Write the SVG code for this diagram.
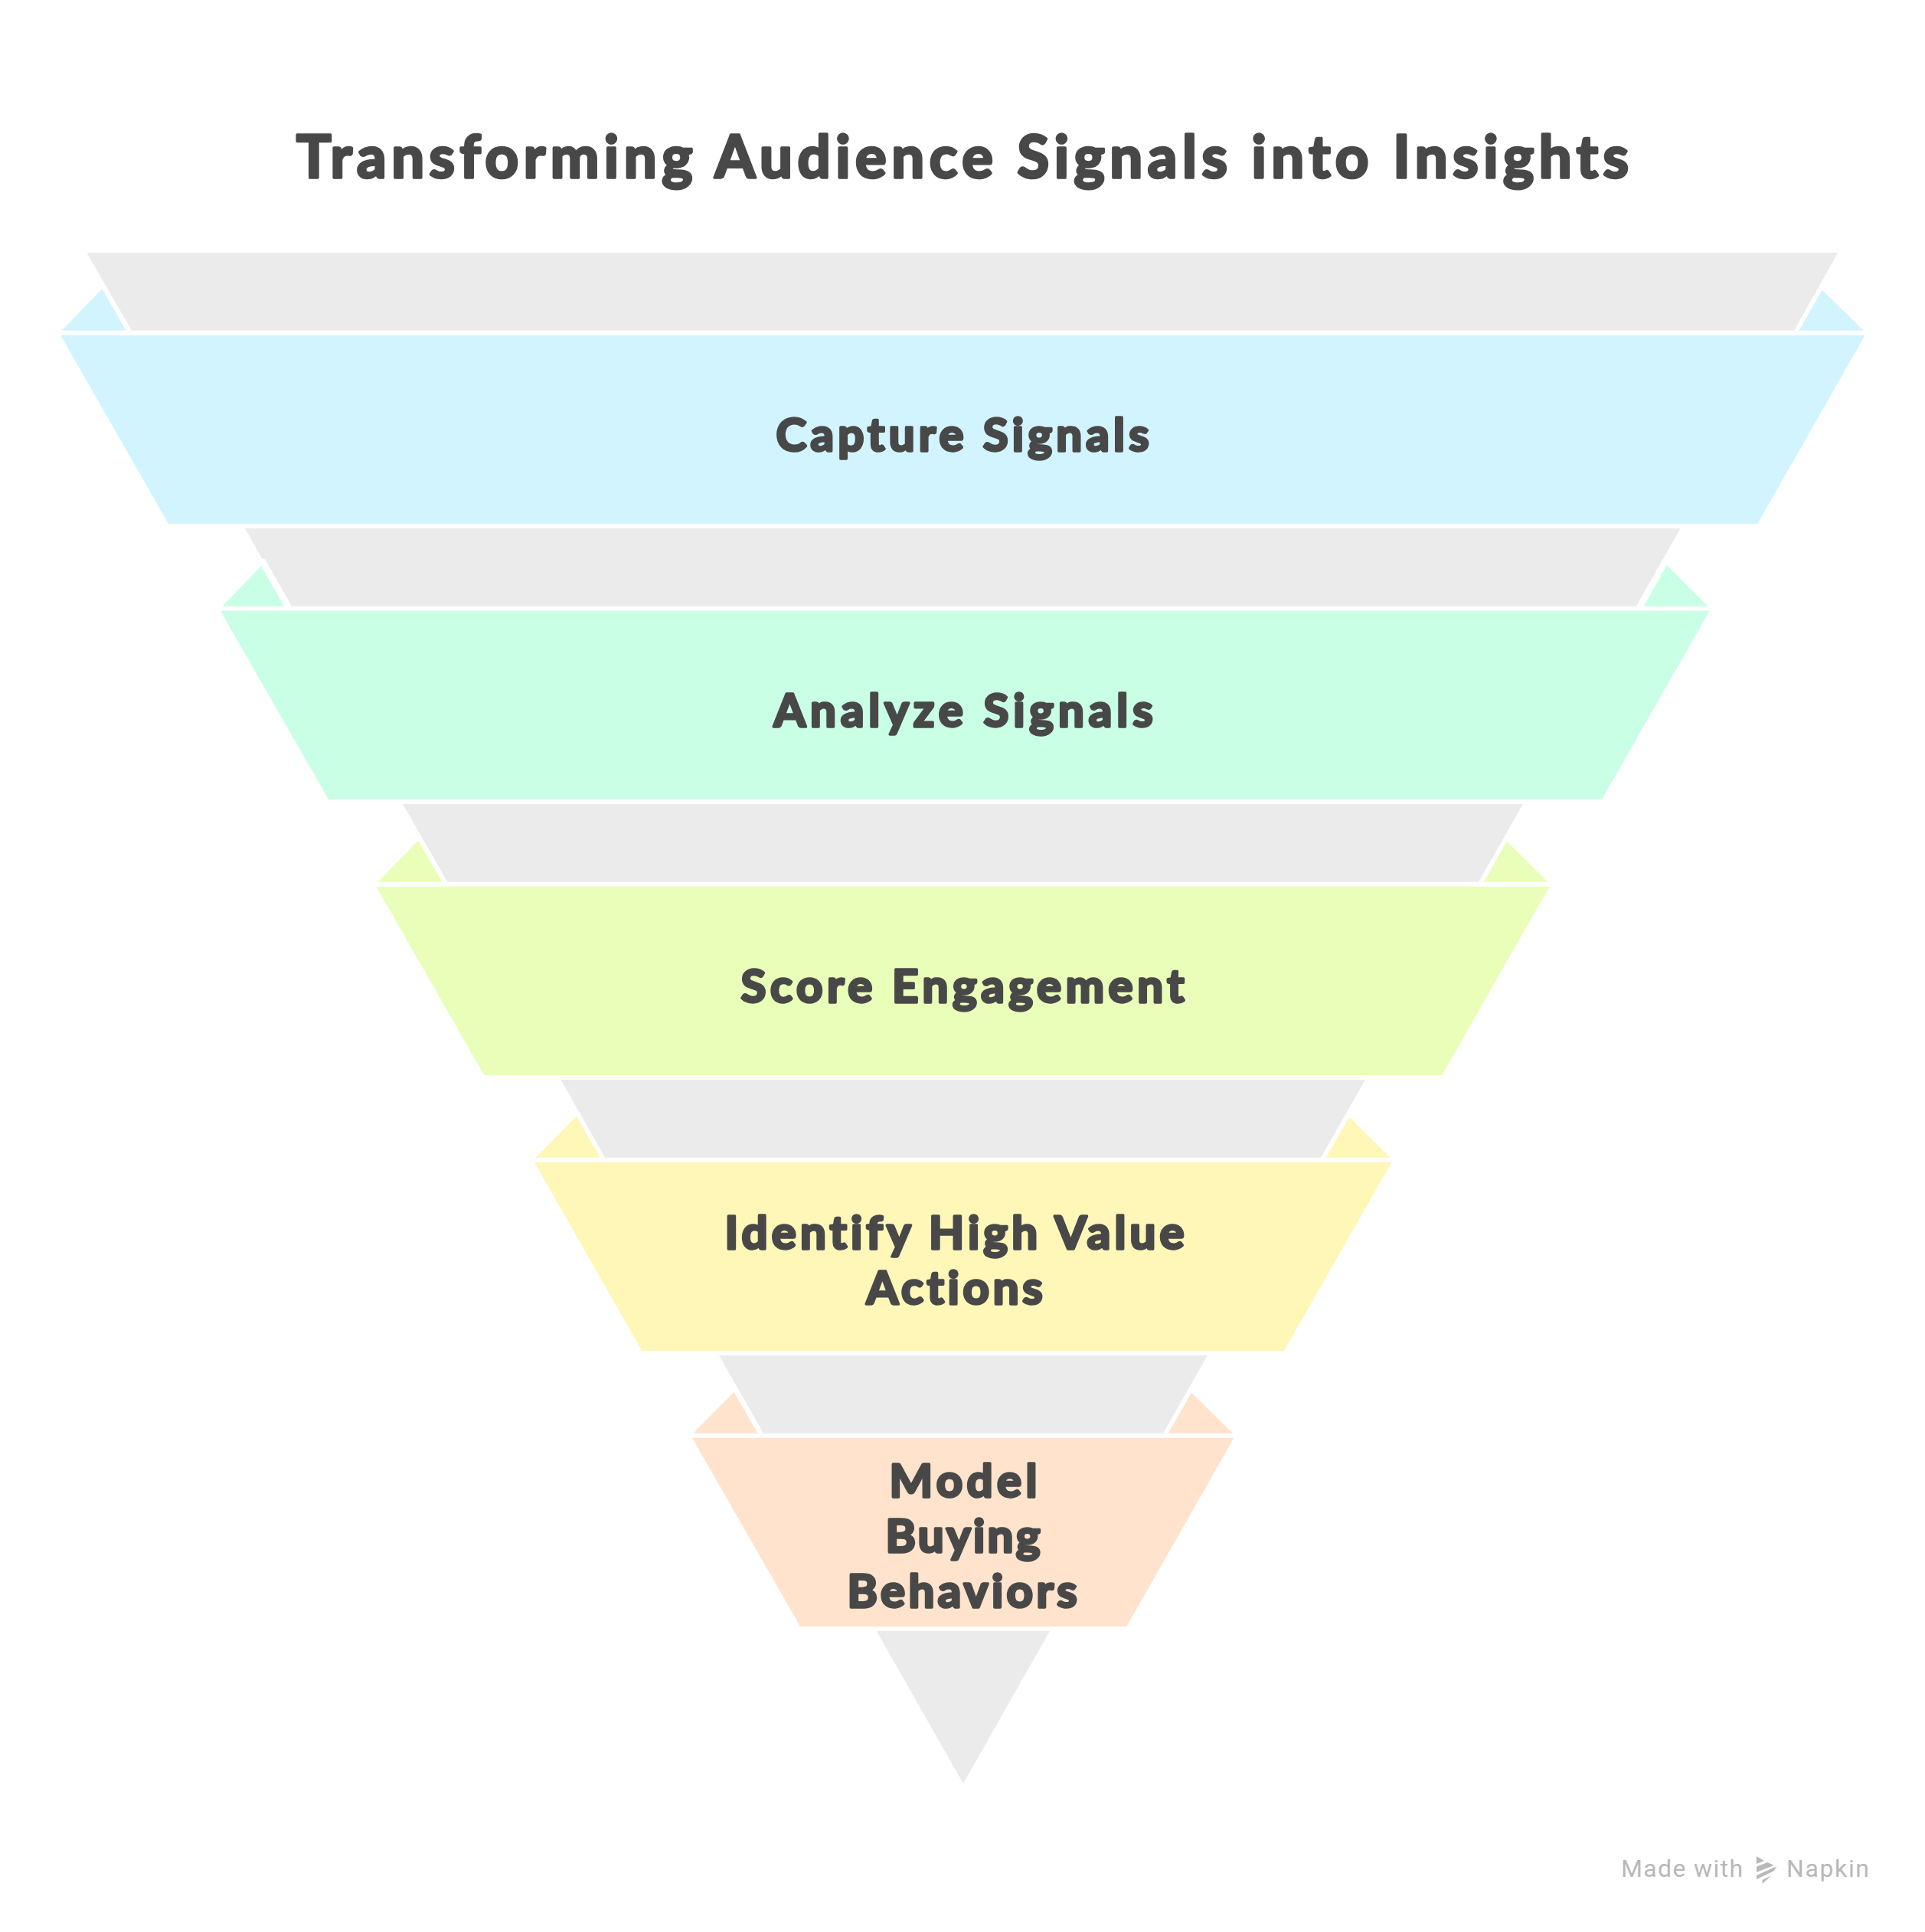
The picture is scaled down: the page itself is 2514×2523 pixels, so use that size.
<svg xmlns="http://www.w3.org/2000/svg" width="2514" height="2523" viewBox="0 0 2514 2523">
<style>
.g{fill:#EBEBEB}
.b{fill:#D2F4FF}
.m{fill:#C9FFE5}
.l{fill:#E9FFB9}
.y{fill:#FFF7B8}
.p{fill:#FFE3CC}
text{font-family:"Lato","Noto Sans",sans-serif;font-weight:700;font-variant-ligatures:none;fill:#484848;stroke:#484848;stroke-width:3.5;stroke-linejoin:round;text-anchor:middle}
.t{font-size:76px}
.n{font-size:60px}
.f{font-family:"Roboto","Noto Sans",sans-serif;font-weight:400;font-size:32px;fill:#B8B8B8;stroke:none;text-anchor:start}
</style>
<rect width="2514" height="2523" fill="#FFFFFF"/>
<text id="title" class="t" x="1257" y="232" textLength="1740" lengthAdjust="spacing">Transforming Audience Signals into Insights</text>
<g id="connectors">
<polygon class="g" points="113.3,330 2400.3,330 2343,431.7 172,431.7"/>
<polygon class="g" points="320,690 2194.7,690 2136.7,791.7 381,791.7 346,730 342.7,730"/>
<polygon class="g" points="526,1050 1989,1050 1931,1151.7 584.3,1151.7"/>
<polygon class="g" points="732.3,1410 1783,1410 1725,1511.7 790.3,1511.7"/>
<polygon class="g" points="939,1770 1577,1770 1519,1871.7 997,1871.7"/>
<polygon class="g" points="1144.7,2130 1371,2130 1258,2329"/>
</g>
<g id="node-capture">
<polygon class="b" points="133.3,377.3 80.7,431.7 164.7,431.7"/>
<polygon class="b" points="2379.7,378.7 2349.3,431.7 2433.7,431.7"/>
<polygon class="b" points="79,437.7 2435.7,437.7 2295.3,684 220,684"/>
<text class="n" x="1257" y="589" textLength="487" lengthAdjust="spacing">Capture Signals</text>
</g>
<g id="node-analyze">
<polygon class="m" points="341,739.3 290.3,791.7 371.3,791.7"/>
<polygon class="m" points="2177,738 2146.7,791.7 2230.7,791.7"/>
<polygon class="m" points="288,797.7 2232.7,797.7 2092,1044 429,1044"/>
<text class="n" x="1258" y="949" textLength="495" lengthAdjust="spacing">Analyze Signals</text>
</g>
<g id="node-score">
<polygon class="l" points="546.3,1097.7 493.3,1151.7 577.3,1151.7"/>
<polygon class="l" points="1968,1098.7 1937.7,1151.7 2021.7,1151.7"/>
<polygon class="l" points="491.3,1157.7 2023.7,1157.7 1883.3,1404 632.3,1404"/>
<text class="n" x="1257" y="1309" textLength="579" lengthAdjust="spacing">Score Engagement</text>
</g>
<g id="node-identify">
<polygon class="y" points="752.7,1457.7 699.7,1511.7 783.7,1511.7"/>
<polygon class="y" points="1762,1458.7 1731.7,1511.7 1815.7,1511.7"/>
<polygon class="y" points="697.7,1517.7 1817.7,1517.7 1677,1764 838.3,1764"/>
<text class="n" x="1246.5" y="1631" textLength="600" lengthAdjust="spacing">Identify High Value</text>
<text class="n" x="1246.5" y="1703" textLength="230" lengthAdjust="spacing">Actions</text>
</g>
<g id="node-model">
<polygon class="p" points="958.5,1817.7 905.5,1871.7 989.5,1871.7"/>
<polygon class="p" points="1556,1818.7 1525.7,1871.7 1609.7,1871.7"/>
<polygon class="p" points="904,1877.7 1611.5,1877.7 1471.3,2124 1045,2124"/>
<text class="n" x="1258" y="1955" textLength="193" lengthAdjust="spacing">Model</text>
<text class="n" x="1257.5" y="2027" textLength="202" lengthAdjust="spacing">Buying</text>
<text class="n" x="1256.5" y="2099" textLength="300" lengthAdjust="spacing">Behaviors</text>
</g>
<g id="footer">
<text class="f" x="2117" y="2451" textLength="159" lengthAdjust="spacing">Made with</text>
<g transform="translate(2100 2400) scale(.3333)" fill="#B8B8B8">
<polygon points="582,72 612,90 582,102"/>
<polygon points="582,113 625,96 650,108 582,135"/>
<polygon points="582,147 661,112 650,130 582,163"/>
<polygon points="605,165 640,148 605,180"/>
</g>
<text class="f" x="2333" y="2451" textLength="108" lengthAdjust="spacing">Napkin</text>
</g>
</svg>
